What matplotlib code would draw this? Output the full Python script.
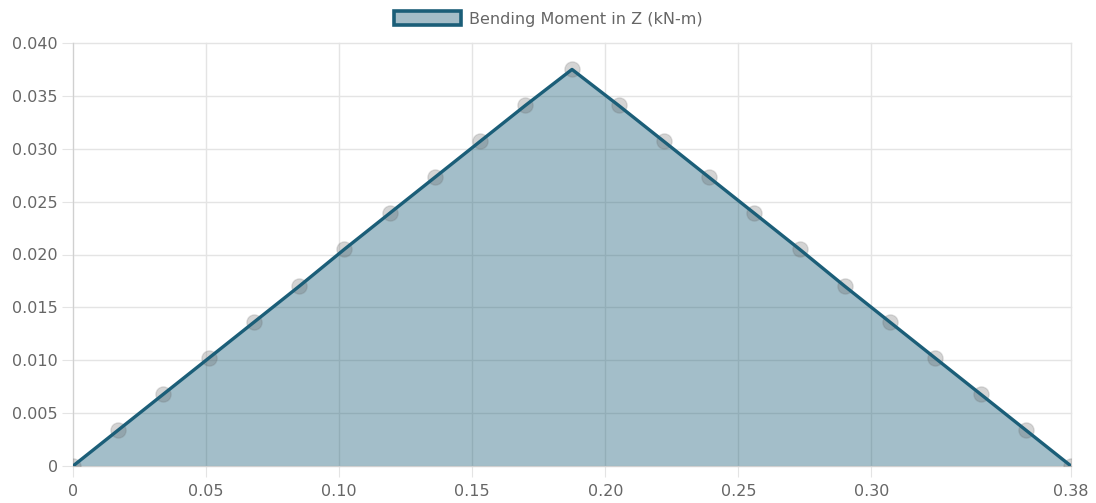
import matplotlib.pyplot as plt
from matplotlib.patches import Patch

# positions along the member (m) and bending moment (kN-m)
x_pos = [0, 0.017, 0.034, 0.051, 0.068, 0.085, 0.102, 0.119, 0.136, 0.153, 0.170, 0.1875,
         0.205, 0.222, 0.239, 0.256, 0.273, 0.290, 0.307, 0.324, 0.341, 0.358, 0.375]
moment_z = [0, 0.0034, 0.0068, 0.0102, 0.0136, 0.0170, 0.0205, 0.0239, 0.0273, 0.0307, 0.0341, 0.0375,
            0.0341, 0.0307, 0.0273, 0.0239, 0.0205, 0.0170, 0.0136, 0.0102, 0.0068, 0.0034, 0]

x_ticks = [0, 0.05, 0.10, 0.15, 0.20, 0.25, 0.30, 0.375]
x_labels = ['0', '0.05', '0.10', '0.15', '0.20', '0.25', '0.30', '0.38']
y_ticks = [0, 0.005, 0.010, 0.015, 0.020, 0.025, 0.030, 0.035, 0.040]
y_labels = ['0', '0.005', '0.010', '0.015', '0.020', '0.025', '0.030', '0.035', '0.040']

plt.rcParams['font.family'] = ['DejaVu Sans']
line_col = '#1b5e78'
fill_col = '#a4bdc8'
grid_col = '#e4e4e4'
text_col = '#666666'

fig = plt.figure(figsize=(10.96, 5.03), dpi=100)
ax = fig.add_axes([73/1096, 1-466/503, (1071-73)/1096, (466-43)/503])

ax.fill_between(x_pos, moment_z, 0, color=line_col, alpha=0.4, linewidth=0, zorder=2)
ax.plot(x_pos, moment_z, linestyle='none', marker='o', markersize=11,
        markerfacecolor=(0.4, 0.4, 0.4, 0.28), markeredgecolor=(0.4, 0.4, 0.4, 0.18),
        zorder=3)
ax.plot(x_pos, moment_z, color=line_col, linewidth=2.4, zorder=4, solid_capstyle='round')

ax.set_xlim(0, 0.375)
ax.set_ylim(0, 0.040)
ax.set_xticks(x_ticks)
ax.set_xticklabels(x_labels)
ax.set_yticks(y_ticks)
ax.set_yticklabels(y_labels)
ax.grid(True, color=grid_col, linewidth=1, zorder=1)
ax.set_axisbelow(True)
# keep the edge gridlines (top / right) fully visible
for gl in ax.get_xgridlines() + ax.get_ygridlines():
    gl.set_clip_on(False)
for s in ['top', 'right']:
    ax.spines[s].set_visible(False)
for s in ['left', 'bottom']:
    ax.spines[s].set_color('#d0d0d0')
ax.tick_params(colors=grid_col, length=8, labelcolor=text_col, labelsize=11.5)
ax.tick_params(axis='x', pad=5)
ax.tick_params(axis='y', pad=3)

handle = Patch(facecolor=fill_col, edgecolor=line_col, linewidth=2.6)
fig.legend([handle], ['Bending Moment in Z (kN-m)'], loc='center', bbox_to_anchor=(0.5, 1-19/503),
           frameon=False, handlelength=4.2, handleheight=0.9, handletextpad=0.5,
           fontsize=11.5, labelcolor=text_col)

fig.savefig('out.png', dpi=100)
